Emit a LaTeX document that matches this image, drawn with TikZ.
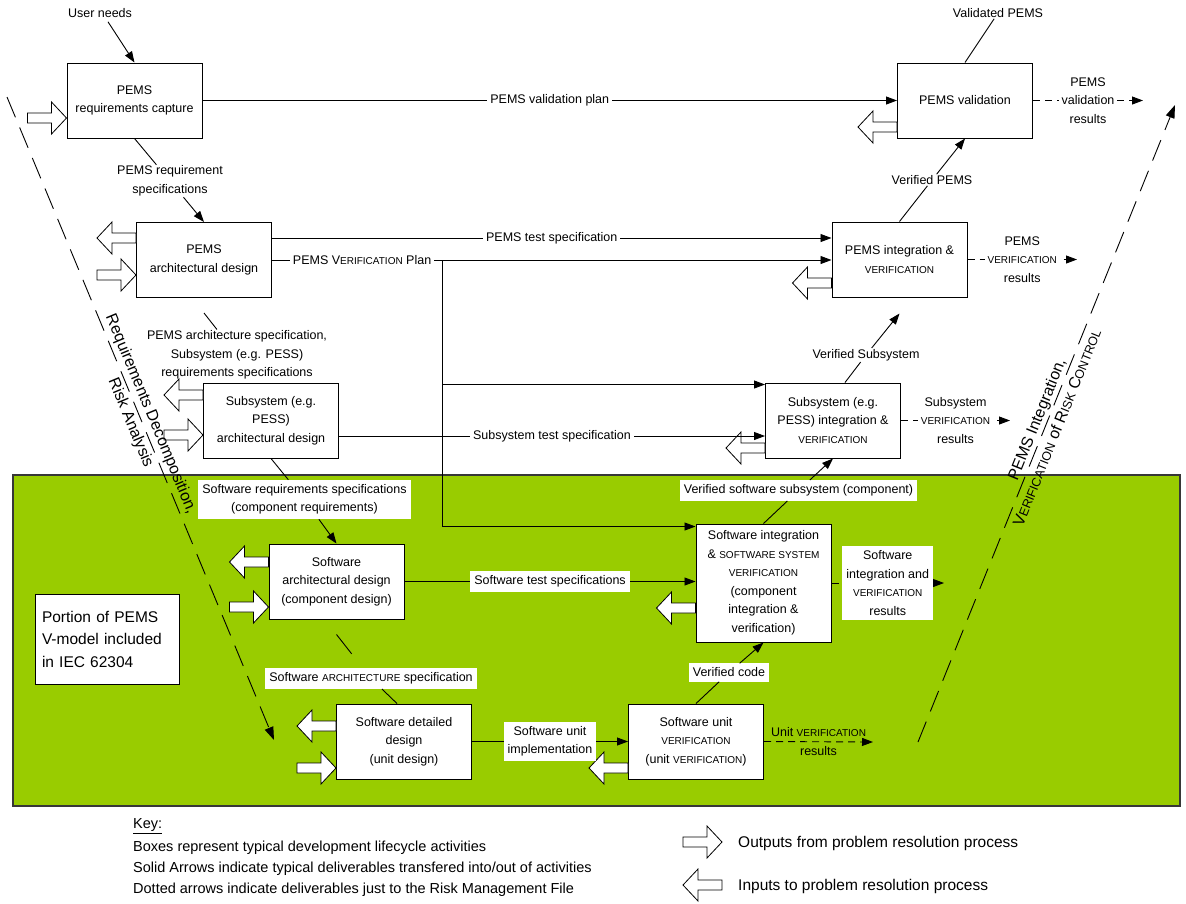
\documentclass[tikz,border=0pt]{standalone}
\usepackage{fontspec}
\setmainfont{Liberation Sans}
\usetikzlibrary{arrows.meta,calc}

\definecolor{vgreen}{RGB}{153,204,0}
\definecolor{vframe}{RGB}{55,55,55}

% font sizes
\newcommand\boxfont{\fontsize{12.5}{18.5}\selectfont}
\newcommand\vfont{\fontsize{16}{22}\selectfont}
\newcommand\keyfont{\fontsize{14.5}{17}\selectfont}
\newcommand\keyfontb{\fontsize{15.5}{18}\selectfont}
\newcommand\portfont{\fontsize{15.5}{22.5}\selectfont}
% small capitals imitation
\newcommand\smcap[1]{{\fontsize{10}{12}\selectfont #1}}
\newcommand\bsmcap[1]{{\fontsize{12.5}{14}\selectfont #1}}

\tikzset{
  actbox/.style={draw, fill=white, line width=1pt, minimum width=135pt,
    minimum height=75pt, align=center, inner sep=2pt, font=\boxfont},
  lbl/.style={align=center, inner sep=1pt, font=\boxfont},
  wl/.style={fill=white, align=center, inner sep=3pt, font=\boxfont},
  gl/.style={fill=white, align=center, inner xsep=4pt, inner ysep=4.5pt, font=\boxfont},
  conn/.style={line width=0.9pt},
  arr/.style={conn, -{Triangle[length=11pt,width=8pt]}},
  darr/.style={arr, dash pattern=on 7pt off 5pt},
  vline/.style={line width=0.9pt, dash pattern=on 22pt off 11pt,
    -{Triangle[length=13pt,width=9pt]}},
  outarr/.pic={\draw[fill=white, line width=0.8pt]
    (-39,-5) -- (-15,-5) -- (-15,-16) -- (0,0) -- (-15,16) -- (-15,5) -- (-39,5) -- cycle;},
  inarr/.pic={\draw[fill=white, line width=0.8pt]
    (0,-5) -- (-24,-5) -- (-24,-16) -- (-39,0) -- (-24,16) -- (-24,5) -- (0,5) -- cycle;},
}

\begin{document}
\begin{tikzpicture}[x=1pt,y=-1pt]
\useasboundingbox (0,0) rectangle (1186,903);

% region covered by IEC 62304
\path[fill=vgreen, draw=vframe, line width=1.5pt] (13,475) rectangle (1180,806);
\node[draw, fill=white, line width=1pt, minimum width=144pt, minimum height=90pt,
      text width=130pt, align=left, inner sep=7pt, font=\portfont] (portion) at (107,639)
      {Portion of PEMS\\V-model included\\in IEC 62304};

% lifecycle activities
\node[actbox] (req) at (134.5,100.5) {PEMS\\requirements capture};
\node[actbox] (arch) at (204,260) {PEMS\\architectural design};
\node[actbox] (subarch) at (271,420.5) {Subsystem (e.g.\\PESS)\\architectural design};
\node[actbox] (swarch) at (336.5,581.5) {Software\\architectural design\\(component design)};
\node[actbox] (swdet) at (404,741.5) {Software detailed\\design\\(unit design)};
\node[actbox] (unitver) at (696,741.5) {Software unit\\\smcap{VERIFICATION}\\(unit \smcap{VERIFICATION})};
\node[actbox, minimum height=118pt] (swint) at (763.5,583)
  {Software integration\\\& \smcap{SOFTWARE SYSTEM}\\\smcap{VERIFICATION}\\(component\\integration \&\\verification)};
\node[actbox] (subint) at (833,420.5) {Subsystem (e.g.\\PESS) integration \&\\\smcap{VERIFICATION}};
\node[actbox] (pemsint) at (899.5,259.5) {PEMS integration \&\\\smcap{VERIFICATION}};
\node[actbox] (val) at (965,100.5) {PEMS validation};

% problem resolution outputs (into boxes) and inputs (out of boxes)
\pic at ([yshift=-17.5pt]req.west) {outarr};
\pic at ([yshift=-15pt]arch.west) {outarr};
\pic at ([yshift=22pt]arch.west) {inarr};
\pic at ([yshift=-14.5pt]subarch.west) {outarr};
\pic at ([yshift=25.5pt]subarch.west) {inarr};
\pic at ([yshift=-25.5pt]swarch.west) {outarr};
\pic at ([yshift=19.5pt]swarch.west) {inarr};
\pic at ([yshift=-26.5pt]swdet.west) {outarr};
\pic at ([yshift=15.5pt]swdet.west) {inarr};
\pic at ([yshift=-26.5pt]val.west) {inarr};
\pic at ([yshift=-23.5pt]pemsint.west) {inarr};
\pic at ([yshift=-27.5pt]subint.west) {inarr};
\pic at ([yshift=-25pt]swint.west) {inarr};
\pic at ([yshift=-26.5pt]unitver.west) {inarr};

% plans and specifications across the V
\draw[arr] (req.east) -- node[wl]{PEMS validation plan} (val.west);
\coordinate (ts) at ([yshift=22pt]arch.east);
\draw[arr] (ts) -- node[wl]{PEMS test specification} (ts -| pemsint.west);
\coordinate (vp) at (442,260);
\draw[conn] (arch.east) -- node[wl,pos=0.53]{PEMS V\smcap{ERIFICATION} Plan} (vp);
\draw[arr] (vp) -- (vp -| pemsint.west);
\coordinate (sb) at ([yshift=-2pt]subint.north west);
\draw[arr] (sb -| vp) -- (sb);
\draw[arr] (vp) |- ([yshift=-3pt]swint.north west);
\coordinate (sts) at ([yshift=-15.5pt]subarch.east);
\draw[arr] (sts) -- node[wl]{Subsystem test specification} (sts -| subint.west);
\draw[arr] (swarch.east) -- node[gl]{Software test specifications} (swarch.east -| swint.west);
\draw[arr] (swdet.east) -- node[gl]{Software unit\\implementation} (unitver.west);

% decomposition side
\node[lbl] (un) at (100,13) {User needs};
\draw[arr] ([xshift=8pt,yshift=-3pt]un.south) -- (req.north);
\node[lbl] (rqs) at (170,181) {PEMS requirement\\specifications};
\draw[conn] (req.south) -- (rqs);
\draw[arr] (rqs) -- (arch.north);
\node[lbl] (aps) at (237,355) {PEMS architecture specification,\\Subsystem (e.g. PESS)\\requirements specifications};
\draw[conn] ([yshift=-15pt]arch.south) -- (aps);
\node[gl] (swr) at (304.5,499.5) {Software requirements specifications\\(component requirements)};
\draw[conn] (subarch.south) -- (swr);
\draw[arr] (swr) -- (swarch.north);
\node[gl] (sas) at (371,678.5) {Software \smcap{ARCHITECTURE} specification};
\draw[conn, shorten >=18pt] ([yshift=-15pt]swarch.south) -- (sas);
\draw[conn] (sas) -- ([xshift=-7pt]swdet.north);

% integration side
\node[gl] (vc) at (729,672.5) {Verified code};
\draw[conn] (unitver.north) -- (vc);
\draw[arr] (vc) -- (swint.south);
\node[gl] (vss) at (798.5,490.5) {Verified software subsystem (component)};
\draw[conn] (swint.north) -- (vss);
\draw[arr] (vss) -- (subint.south);
\node[lbl] (vsub) at (866,355) {Verified Subsystem};
\draw[conn] ([xshift=12pt]subint.north) -- (vsub);
\draw[arr] (vsub) -- ([yshift=-16pt]pemsint.south);
\node[lbl] (vpems) at (932,180) {Verified PEMS};
\draw[conn] (pemsint.north) -- (vpems);
\draw[arr] (vpems) -- (val.south);
\node[lbl] (vdp) at (998,13) {Validated PEMS};
\draw[conn] (val.north) -- (vdp);

% results sent to the risk management file
\coordinate (valend) at (1143,100.5);
\draw[darr] (val.east) -- node[wl]{PEMS\\validation\\results} (valend);
\coordinate (pintend) at (1077,259.5);
\draw[darr] (pemsint.east) -- node[wl]{PEMS\\\smcap{VERIFICATION}\\results} (pintend);
\coordinate (sintend) at (1010,420.5);
\draw[darr] (subint.east) -- node[wl]{Subsystem\\\smcap{VERIFICATION}\\results} (sintend);
\coordinate (swintend) at (944,583);
\draw[darr] (swint.east) -- node[gl]{Software\\integration and\\\smcap{VERIFICATION}\\results} (swintend);
\coordinate (uvend) at (873,742);
\draw[darr] (unitver.east) -- node[lbl]{Unit \smcap{VERIFICATION}\\results} (uvend);

% the two legs of the V
\coordinate (lvs) at (7,97);
\coordinate (lve) at (274,740);
\draw[vline] (lvs) -- node[sloped, align=center, inner sep=0pt, font=\vfont]
  {Requirements Decomposition,\\Risk Analysis} (lve);
\coordinate (rvs) at (918,742);
\coordinate (rve) at (1175,105);
\draw[vline] (rvs) -- node[sloped, align=center, inner sep=0pt, font=\vfont]
  {PEMS Integration,\\V\bsmcap{ERIFICATION} of R\bsmcap{ISK} C\bsmcap{ONTROL}} (rve);

% key
\node[anchor=west, inner sep=0pt, font=\keyfont] (key) at (133,826) {\underline{Key:}};
\node[anchor=west, inner sep=0pt, font=\keyfont] (k1) at (133,848) {Boxes represent typical development lifecycle activities};
\node[anchor=west, inner sep=0pt, font=\keyfont] (k2) at (133,869) {Solid Arrows indicate typical deliverables transfered into/out of activities};
\node[anchor=west, inner sep=0pt, font=\keyfont] (k3) at (133,890) {Dotted arrows indicate deliverables just to the Risk Management File};
\pic at (722,842) {outarr};
\node[anchor=west, inner sep=0pt, font=\keyfontb] (kout) at (738,843) {Outputs from problem resolution process};
\pic at (722,885) {inarr};
\node[anchor=west, inner sep=0pt, font=\keyfontb] (kin) at (738,886) {Inputs to problem resolution process};
\end{tikzpicture}
\end{document}
